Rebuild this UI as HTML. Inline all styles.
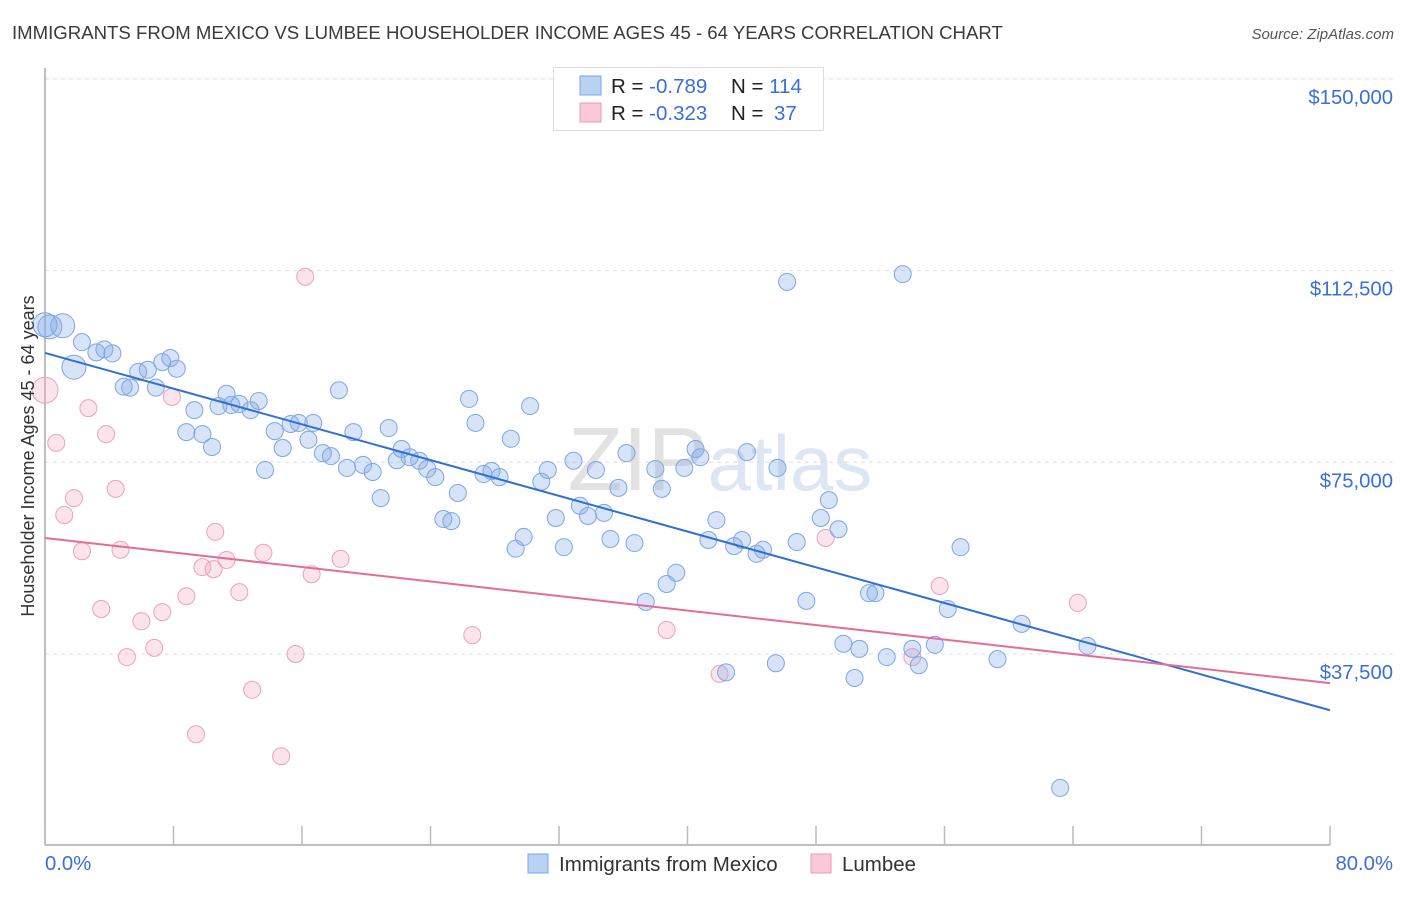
<!DOCTYPE html>
<html><head><meta charset="utf-8"><style>
body{margin:0;background:#fff;font-family:"Liberation Sans",sans-serif;}
svg text{font-family:"Liberation Sans",sans-serif;}
</style></head><body>
<svg id="chart" width="1406" height="892" viewBox="0 0 1406 892" xmlns="http://www.w3.org/2000/svg">
<text x="12" y="39" font-size="18.6" fill="#3a3a3a">IMMIGRANTS FROM MEXICO VS LUMBEE HOUSEHOLDER INCOME AGES 45 - 64 YEARS CORRELATION CHART</text>
<text x="1394" y="39" font-size="15" font-style="italic" fill="#555" text-anchor="end">Source: ZipAtlas.com</text>
<text x="720" y="490" font-size="90" fill="#e4e8ee" text-anchor="middle" font-family="Liberation Serif"><tspan fill="#e2e2e2">ZIP</tspan><tspan fill="#dce6f4" font-family="Liberation Sans" font-size="78">atlas</tspan></text>
<g id="grid"></g>
<g id="axes"></g>
<g id="pts"></g>
<g id="lines"></g>
<text transform="translate(34,456) rotate(-90)" font-size="18" fill="#333" text-anchor="middle">Householder Income Ages 45 - 64 years</text>
<g>
<rect x="553.5" y="67.5" width="270" height="63" fill="#fff" stroke="#ddd"/>
<rect x="580" y="76" width="21" height="19" fill="#b8d2f4" stroke="#7ea6e4"/>
<rect x="580" y="103" width="21" height="19" fill="#fac8d8" stroke="#ec9ab6"/>
<text x="611" y="93" font-size="20.5" fill="#222">R = <tspan fill="#3a6fd8">-0.789</tspan><tspan x="731">N = </tspan><tspan fill="#3a6fd8">114</tspan></text>
<text x="611" y="120" font-size="20.5" fill="#222">R = <tspan fill="#3a6fd8">-0.323</tspan><tspan x="731">N = </tspan><tspan fill="#3a6fd8" x="774">37</tspan></text>
</g>
<g>
<rect x="528" y="854" width="20" height="19" fill="#b8d2f4" stroke="#7ea6e4"/>
<text x="559" y="871" font-size="20.5" fill="#333">Immigrants from Mexico</text>
<rect x="811" y="854" width="20" height="19" fill="#fac8d8" stroke="#ec9ab6"/>
<text x="842" y="871" font-size="20.5" fill="#333">Lumbee</text>
</g>
</svg>
<script>
const yTicks=[37500,75000,112500,150000];
const yTickLabels=["$37,500","$75,000","$112,500","$150,000"];
const xTickVals=[0,8,16,24,32,40,48,56,64,72,80];
const xEndLabels=["0.0%","80.0%"];
const blueX=[0.3,1.1,0,2.3,1.8,3.2,3.7,4.2,4.9,5.3,5.8,6.4,6.9,7.3,7.8,8.2,8.8,9.3,9.8,10.4,10.8,11.3,11.6,12.1,12.8,13.3,13.7,14.3,14.8,15.3,15.8,16.4,16.7,17.3,17.8,18.3,18.8,19.2,19.8,20.4,20.9,21.4,21.9,22.2,22.7,23.3,23.8,24.3,24.8,25.3,25.7,26.4,26.8,27.3,27.8,28.3,29.0,29.3,29.8,30.2,30.9,31.3,31.8,32.3,32.9,33.3,33.8,34.3,34.8,35.2,35.7,36.2,36.7,37.4,38.0,38.4,38.7,39.3,39.8,40.5,40.8,41.3,41.8,42.4,42.9,43.4,43.7,44.3,44.7,45.6,45.5,46.2,46.8,47.4,48.3,48.8,49.4,49.7,50.4,50.7,51.3,51.7,52.4,53.4,54.0,54.4,55.4,56.2,57.0,59.3,60.8,63.2,64.9];
const blueY=[101.5,101.7,101.9,98.5,93.6,96.5,97.1,96.3,89.8,89.6,92.7,93.1,89.6,94.6,95.4,93.3,80.9,85.2,80.5,78.0,86.0,88.4,86.2,86.4,85.2,87.0,73.5,81.1,77.8,82.5,82.7,79.4,82.7,76.8,76.2,89.1,73.9,80.9,74.5,73.1,68.0,81.7,75.4,77.6,76.0,75.3,73.7,72.1,63.9,63.5,69.0,87.4,82.7,72.7,73.3,72.1,79.6,58.1,60.4,86.0,71.2,73.5,64.1,58.4,75.3,66.5,64.5,73.5,65.1,60.0,70.0,76.8,59.2,47.7,73.7,69.8,51.2,53.4,73.9,77.6,76.0,59.8,63.7,33.9,58.6,59.8,77.0,57.1,57.9,73.9,35.7,110.3,59.4,47.9,64.1,67.6,61.9,39.5,32.8,38.5,49.4,49.4,36.9,111.8,38.5,35.3,39.3,46.3,58.4,36.5,43.4,11.3,39.1];
const blueBig=[1,1,1,0,1];
const pinkX=[0,0.7,1.2,1.8,2.3,2.7,3.5,3.8,4.4,4.7,5.1,6.0,6.8,7.3,7.9,8.8,9.4,9.8,10.6,10.5,11.3,12.1,12.9,13.6,14.7,15.6,16.2,16.6,18.4,26.6,38.7,42.0,48.6,54.0,55.7,64.3];
const pinkY=[89.1,78.8,64.7,68.0,57.6,85.6,46.3,80.5,69.8,57.9,36.9,43.9,38.7,45.7,87.8,48.8,21.8,54.5,61.4,54.1,55.9,49.6,30.5,57.3,17.5,37.5,111.3,53.1,56.1,41.2,42.2,33.6,60.2,36.9,50.8,47.5];
const blueTrend=[96.4,26.5];
const pinkTrend=[60.2,31.8];
const NS="http://www.w3.org/2000/svg";
const X0=45,X1=1330,Y0=845.7,YPX=191.7/37500;
const xs=v=>X0+(v/80)*(X1-X0);
const ys=v=>Y0-v*YPX;
function mk(tag,attrs,parent){const e=document.createElementNS(NS,tag);for(const k in attrs)e.setAttribute(k,attrs[k]);parent.appendChild(e);return e;}
const gridG=document.getElementById('grid'),axesG=document.getElementById('axes'),ptsG=document.getElementById('pts'),linesG=document.getElementById('lines');
yTicks.forEach((t,i)=>{
 const l=mk('line',{x1:45,x2:1394,y1:ys(t),y2:ys(t),stroke:'#ddd','stroke-dasharray':'4,4'},gridG);
 
 
 const tx=mk('text',{x:1393,y:ys(t)+25,'font-size':20.3,fill:'#3a6fd8','text-anchor':'end'},axesG);
 tx.textContent=yTickLabels[i];
 
 
});
const ya=mk('line',{x1:45,x2:45,y1:68,y2:845,stroke:'#aaa','stroke-width':1.5},axesG);


const xa=mk('line',{x1:45,x2:1330,y1:845,y2:845,stroke:'#aaa','stroke-width':1.5},axesG);


xTickVals.forEach(v=>{const t=mk('line',{x1:xs(v),x2:xs(v),y1:826,y2:845,stroke:'#bbb','stroke-width':1.5},axesG);
 
 });
const l0=mk('text',{x:45,y:870,'font-size':20.3,fill:'#3a6fd8'},axesG);l0.textContent=xEndLabels[0];


const l1=mk('text',{x:1393,y:870,'font-size':20.3,fill:'#3a6fd8','text-anchor':'end'},axesG);l1.textContent=xEndLabels[1];


pinkX.forEach((x,i)=>{const c=mk('circle',{cx:xs(x),cy:ys(pinkY[i]*1000),r:i===0?13:8.5,fill:'rgba(246,170,196,0.32)',stroke:'#eba2bc','stroke-width':1},ptsG);
 
 });
blueX.forEach((x,i)=>{const c=mk('circle',{cx:xs(x),cy:ys(blueY[i]*1000),r:blueBig[i]?12:8.5,fill:'rgba(130,170,230,0.32)',stroke:'#7ea6e4','stroke-width':1},ptsG);
 
 });
const bl=mk('line',{x1:xs(0),y1:ys(blueTrend[0]*1000),x2:xs(80),y2:ys(blueTrend[1]*1000),stroke:'#2f6fd6','stroke-width':2},linesG);


const pl=mk('line',{x1:xs(0),y1:ys(pinkTrend[0]*1000),x2:xs(80),y2:ys(pinkTrend[1]*1000),stroke:'#e46c96','stroke-width':2},linesG);


</script>
</body></html>
